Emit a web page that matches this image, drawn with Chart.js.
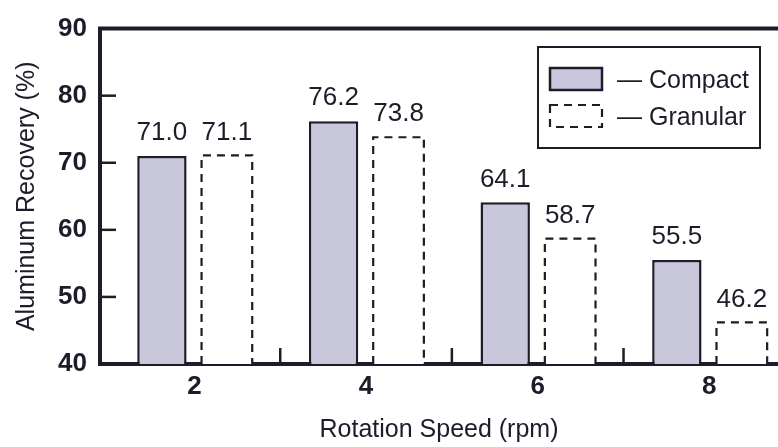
<!DOCTYPE html>
<html>
<head>
<meta charset="utf-8">
<script src="https://cdn.jsdelivr.net/npm/chart.js@4/dist/chart.umd.min.js"></script>
<style>
  html, body { margin: 0; padding: 0; background: #fff; overflow: hidden; }
  canvas { display: block; }
</style>
</head>
<body>
<canvas id="chart" width="778" height="447"></canvas>
<script>
// data
var speeds = [2, 4, 6, 8];
var compact = [71.0, 76.2, 64.1, 55.5];
var granular = [71.1, 73.8, 58.7, 46.2];
var yTicks = [40, 50, 60, 70, 80, 90];

var ink = '#1c1c2a';
var fam = "'Liberation Sans', Arial, sans-serif";
Chart.defaults.font.family = fam;
Chart.defaults.color = ink;

function pts(vals) {
  return speeds.map(function (s, i) { return { x: s, y: vals[i] }; });
}

// dashed outline, no bottom edge (sits on the axis)
function dashedBar(ctx, l, r, top, base) {
  ctx.beginPath();
  ctx.moveTo(l, base);
  ctx.lineTo(l, top);
  ctx.lineTo(r, top);
  ctx.lineTo(r, base);
  ctx.stroke();
}

var decor = {
  id: 'decor',
  afterDatasetsDraw: function (chart) {
    var ctx = chart.ctx;
    var ca = chart.chartArea;
    ctx.save();
    // granular bars drawn dashed
    ctx.strokeStyle = ink;
    ctx.lineWidth = 2.2;
    ctx.setLineDash([8, 6]);
    chart.getDatasetMeta(1).data.forEach(function (bar) {
      dashedBar(ctx, bar.x - bar.width / 2, bar.x + bar.width / 2, bar.y, Math.min(bar.base, ca.bottom));
    });
    ctx.setLineDash([]);

    // value labels
    ctx.font = '26px ' + fam;
    ctx.fillStyle = ink;
    ctx.textAlign = 'center';
    ctx.textBaseline = 'middle';
    chart.data.datasets.forEach(function (ds, di) {
      chart.getDatasetMeta(di).data.forEach(function (bar, i) {
        ctx.fillText(ds.data[i].y.toFixed(1), bar.x, bar.y - 23);
      });
    });

    // frame top line
    ctx.lineWidth = 4;
    ctx.strokeStyle = ink;
    ctx.beginPath();
    ctx.moveTo(ca.left - 2, ca.top);
    ctx.lineTo(ca.right, ca.top);
    ctx.stroke();

    // inward y ticks
    var ys = chart.scales.y;
    ctx.lineWidth = 2.5;
    yTicks.slice(1, -1).forEach(function (v) {
      var p = ys.getPixelForValue(v);
      ctx.beginPath();
      ctx.moveTo(ca.left, p);
      ctx.lineTo(ca.left + 16, p);
      ctx.stroke();
    });

    // inward x ticks between groups
    var xs = chart.scales.x;
    for (var i = 0; i < speeds.length - 1; i++) {
      var px = xs.getPixelForValue((speeds[i] + speeds[i + 1]) / 2);
      ctx.beginPath();
      ctx.moveTo(px, ca.bottom);
      ctx.lineTo(px, ca.bottom - 16);
      ctx.stroke();
    }

    // legend box
    var lx = 538, ly = 47, lw = 222, lh = 101;
    ctx.lineWidth = 2;
    ctx.strokeRect(lx, ly, lw, lh);
    ctx.font = '25px ' + fam;
    ctx.textAlign = 'left';
    chart.data.datasets.forEach(function (ds, di) {
      var cy = 79 + di * 37;
      if (di === 0) {
        ctx.fillStyle = ds.backgroundColor;
        ctx.fillRect(550, cy - 11, 52, 22);
        ctx.lineWidth = 2.5;
        ctx.strokeRect(550, cy - 11, 52, 22);
      } else {
        ctx.lineWidth = 2.2;
        ctx.setLineDash([8, 6]);
        ctx.strokeRect(550, cy - 11, 52, 22);
        ctx.setLineDash([]);
      }
      ctx.fillStyle = ink;
      ctx.fillText('\u2014 ' + ds.label, 617, cy + 2);
    });
    ctx.restore();
  }
};

new Chart(document.getElementById('chart'), {
  type: 'bar',
  data: {
    datasets: [{
      label: 'Compact',
      data: pts(compact),
      backgroundColor: '#c8c7db',
      borderColor: ink,
      borderWidth: 2.5,
      borderSkipped: false,
      categoryPercentage: 0.757,
      barPercentage: 0.76
    }, {
      label: 'Granular',
      data: pts(granular),
      backgroundColor: '#ffffff',
      borderWidth: 0,
      categoryPercentage: 0.757,
      barPercentage: 0.78
    }]
  },
  options: {
    responsive: false,
    animation: false,
    layout: { padding: { top: 20, right: 0, left: 0, bottom: 0 } },
    plugins: { legend: { display: false }, tooltip: { enabled: false } },
    scales: {
      x: {
        type: 'linear',
        offset: false,
        min: 0.9,
        max: 8.8,
        afterBuildTicks: function (s) { s.ticks = speeds.map(function (v) { return { value: v }; }); },
        afterFit: function (s) { s.height = 83; },
        grid: { display: false, drawTicks: false },
        border: { display: true, color: ink, width: 4 },
        ticks: { padding: 7, font: { size: 26, weight: 'bold' }, color: ink },
        title: { display: true, text: 'Rotation Speed (rpm)', font: { size: 25 }, color: ink, padding: { top: 0, bottom: 2 } }
      },
      y: {
        min: 40,
        max: 90,
        afterBuildTicks: function (s) { s.ticks = yTicks.map(function (v) { return { value: v }; }); },
        afterFit: function (s) { s.width = 100; },
        grid: { display: false, drawTicks: false },
        border: { display: true, color: ink, width: 4 },
        ticks: { padding: 13, font: { size: 26, weight: 'bold' }, color: ink },
        title: { display: true, text: 'Aluminum Recovery (%)', font: { size: 25 }, color: ink, padding: { top: 12, bottom: 0 } }
      }
    }
  },
  plugins: [decor]
});
</script>
</body>
</html>
